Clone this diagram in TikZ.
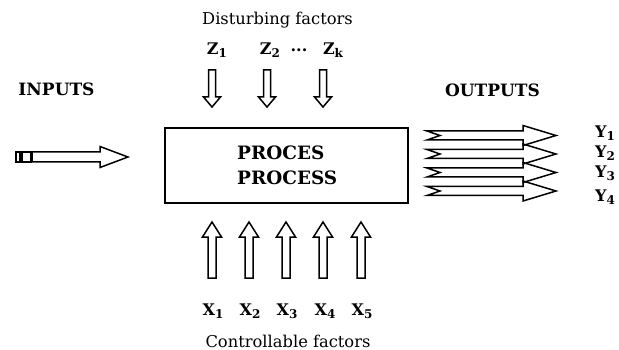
\documentclass[tikz,border=0pt]{standalone}
\usepackage{fontspec}
\setmainfont{DejaVu Serif}
\newcommand{\lbsub}[1]{\raisebox{-0.4ex}{\fontsize{12}{12}\selectfont #1}}
\tikzset{
  arr/.style={draw=black, line width=1.5pt, line join=miter},
  boxst/.style={draw=black, line width=1.4pt},
  headlbl/.style={font=\fontsize{17}{17}\selectfont\bfseries, inner sep=0pt},
  proc/.style={font=\fontsize{18.4}{18.4}\selectfont\bfseries, inner sep=0pt, anchor=west},
  captxt/.style={font=\fontsize{16.3}{16.3}\selectfont, inner sep=0pt},
  var/.style={font=\fontsize{16}{16}\selectfont\bfseries, inner sep=0pt},
  zarrow/.pic={\draw[arr] (-3.5,0) -- (-3.5,27) -- (-8.5,27) -- (0,37) -- (8.5,27) -- (3.5,27) -- (3.5,0) -- cycle;},
  xarrow/.pic={\draw[arr] (0,0) -- (9.5,15) -- (4,15) -- (4,56) -- (-4,56) -- (-4,15) -- (-9.5,15) -- cycle;},
  yarrow/.pic={\draw[arr] (0,-4.5) -- (96,-4.5) -- (96,-10) -- (129,0) -- (96,10) -- (96,4.5) -- (0,4.5) -- (13,0) -- cycle;}
}
\begin{document}
\begin{tikzpicture}[x=1pt,y=-1pt]
\useasboundingbox (0,0) rectangle (619,350);
% process box
\draw[boxst] (165,128) rectangle (408,203);
\node[proc] (proc1) at (237,153) {PROCES};
\node[proc] (proc2) at (237,178) {PROCESS};
% inputs
\node[headlbl] (inputs) at (56.5,89) {INPUTS};
\draw[arr] (16,152) rectangle (20,162);
\draw[arr] (22,152) rectangle (31,162);
\draw[arr] (32,152) -- (100,152) -- (100,146.5) -- (128,157) -- (100,167.5) -- (100,162) -- (32,162) -- cycle;
% outputs
\node[headlbl] (outputs) at (492.5,90) {OUTPUTS};
\pic at (427,135.5) {yarrow};
\pic at (427,154) {yarrow};
\pic at (427,172.5) {yarrow};
\pic at (427,191) {yarrow};
\node[var] (y1) at (605,133) {Y\lbsub{1}};
\node[var] (y2) at (605,153) {Y\lbsub{2}};
\node[var] (y3) at (605,173) {Y\lbsub{3}};
\node[var] (y4) at (605,197) {Y\lbsub{4}};
% disturbing factors
\node[captxt] (dist) at (277.5,20) {Disturbing factors};
\node[var] (z1) at (217,50) {Z\lbsub{1}};
\node[var] (z2) at (270,50) {Z\lbsub{2}};
\node[var] (zd) at (299,50) {...};
\node[var] (zk) at (333,50) {Z\lbsub{k}};
\pic at (212,70) {zarrow};
\pic at (267,70) {zarrow};
\pic at (323,70) {zarrow};
% controllable factors
\pic at (212,222) {xarrow};
\pic at (249,222) {xarrow};
\pic at (286,222) {xarrow};
\pic at (323,222) {xarrow};
\pic at (361,222) {xarrow};
\node[var] (x1) at (213,311) {X\lbsub{1}};
\node[var] (x2) at (250,311) {X\lbsub{2}};
\node[var] (x3) at (287,311) {X\lbsub{3}};
\node[var] (x4) at (325,311) {X\lbsub{4}};
\node[var] (x5) at (362,311) {X\lbsub{5}};
\node[captxt] (ctrl) at (288,341) {Controllable factors};
\end{tikzpicture}
\end{document}
